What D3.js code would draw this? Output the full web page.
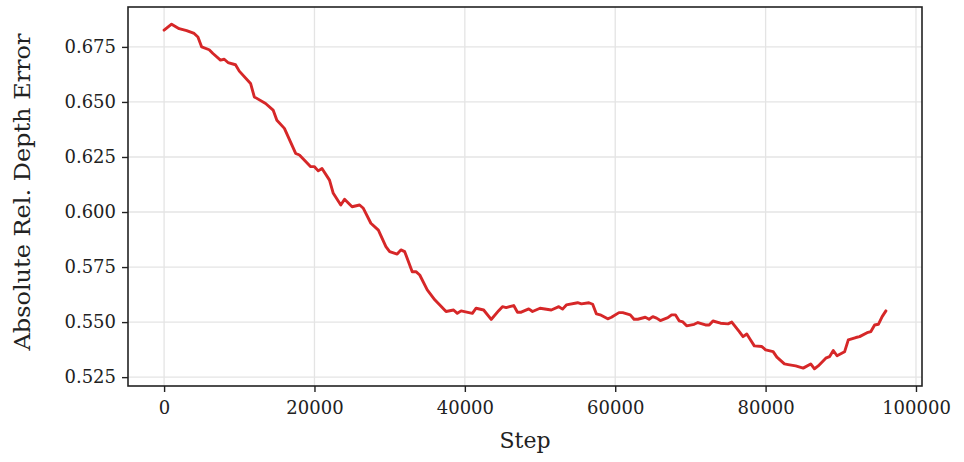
<!DOCTYPE html>
<html>
<head>
<meta charset="utf-8">
<script src="https://cdn.jsdelivr.net/npm/d3@7"></script>
<style>
  html, body { margin: 0; padding: 0; background: #fff; }
  svg { display: block; }
  text { font-family: "DejaVu Serif", serif; fill: #222; }
</style>
</head>
<body>
<svg id="chart" width="964" height="462"></svg>
<script>
// Training curve: evaluation error against optimisation step
const steps = [
  0, 1000, 2000, 3000, 4000, 4500, 5000, 6000, 6500, 7500, 8000, 8500, 9500, 10000,
  11500, 12000, 13500, 14500, 15000, 16000, 17500, 18000, 19500, 20000, 20500, 21000,
  22000, 22500, 23500, 24000, 25000, 26000, 26500, 27500, 28500, 29500, 30000, 31000,
  31500, 32000, 33000, 33500, 34000, 35000, 36000, 37500, 38500, 39000, 39500, 41000,
  41500, 42500, 43500, 44500, 45000, 45500, 46500, 47000, 47500, 48500, 49000, 50000,
  51500, 52500, 53000, 53500, 55000, 55500, 56500, 57000, 57500, 58000, 59000, 59500,
  60500, 61000, 62000, 62500, 63000, 64000, 64500, 65000, 65500, 66000, 67000, 67500,
  68000, 68500, 69000, 69500, 70500, 71000, 72000, 72500, 73000, 74000, 75000, 75500,
  76500, 77000, 77500, 78000, 78500, 79500, 80000, 81000, 81500, 82500, 83000, 84000,
  85000, 86000, 86500, 87000, 88000, 88500, 89000, 89500, 90500, 91000, 92000, 92500,
  93500, 94000, 94500, 95000, 95500, 96000
];
const absRelError = [
  0.6826, 0.6853, 0.6833, 0.6824, 0.6811, 0.6795, 0.6750, 0.6737, 0.6720, 0.6690, 0.6694, 0.6679, 0.6669, 0.6640,
  0.6584, 0.6523, 0.6493, 0.6463, 0.6417, 0.6380, 0.6266, 0.6259, 0.6206, 0.6206, 0.6187, 0.6198,
  0.6145, 0.6085, 0.6032, 0.6058, 0.6024, 0.6032, 0.6017, 0.5949, 0.5918, 0.5843, 0.5820, 0.5809,
  0.5828, 0.5820, 0.5729, 0.5729, 0.5714, 0.5646, 0.5601, 0.5548, 0.5555, 0.5540, 0.5551, 0.5540,
  0.5563, 0.5555, 0.5512, 0.5552, 0.5570, 0.5566, 0.5575, 0.5545, 0.5545, 0.5560, 0.5548, 0.5563,
  0.5555, 0.5570, 0.5559, 0.5578, 0.5588, 0.5583, 0.5588, 0.5581, 0.5537, 0.5533, 0.5515, 0.5522,
  0.5543, 0.5543, 0.5533, 0.5513, 0.5513, 0.5522, 0.5513, 0.5525, 0.5518, 0.5507, 0.5520, 0.5533,
  0.5533, 0.5506, 0.5501, 0.5483, 0.5490, 0.5498, 0.5487, 0.5487, 0.5505, 0.5495, 0.5492, 0.5500,
  0.5457, 0.5434, 0.5446, 0.5419, 0.5392, 0.5389, 0.5374, 0.5366, 0.5341, 0.5310, 0.5307, 0.5301,
  0.5291, 0.5310, 0.5288, 0.5301, 0.5336, 0.5343, 0.5371, 0.5347, 0.5365, 0.5419, 0.5430, 0.5434,
  0.5452, 0.5457, 0.5487, 0.5490, 0.5525, 0.5551
];
const xTicks = [0, 20000, 40000, 60000, 80000, 100000];
const yTicks = [0.525, 0.550, 0.575, 0.600, 0.625, 0.650, 0.675];
const xLabel = "Step";
const yLabel = "Absolute Rel. Depth Error";

const svg = d3.select("#chart");
const margin = { left: 128, right: 42, top: 7, bottom: 76 };
const width = 964 - margin.left - margin.right;
const height = 462 - margin.top - margin.bottom;

// 5% padding around the data range on both axes
const xExt = d3.extent(steps), yExt = d3.extent(absRelError);
const xPad = (xExt[1] - xExt[0]) * 0.05, yPad = (yExt[1] - yExt[0]) * 0.05;
const x = d3.scaleLinear().domain([xExt[0] - xPad, xExt[1] + xPad]).range([0, width]);
const y = d3.scaleLinear().domain([yExt[0] - yPad, yExt[1] + yPad]).range([height, 0]);

const g = svg.append("g").attr("transform", `translate(${margin.left},${margin.top})`);

// grid
g.append("g").selectAll("line").data(xTicks).join("line")
  .attr("x1", d => x(d)).attr("x2", d => x(d)).attr("y1", 0).attr("y2", height)
  .attr("stroke", "#e4e4e4").attr("stroke-width", 1.3);
g.append("g").selectAll("line").data(yTicks).join("line")
  .attr("y1", d => y(d)).attr("y2", d => y(d)).attr("x1", 0).attr("x2", width)
  .attr("stroke", "#e4e4e4").attr("stroke-width", 1.3);

// curve
const pts = steps.map((s, i) => [s, absRelError[i]]);
g.append("path").datum(pts)
  .attr("fill", "none").attr("stroke", "#d62728").attr("stroke-width", 2.9)
  .attr("stroke-linejoin", "round").attr("stroke-linecap", "round")
  .attr("d", d3.line().x(d => x(d[0])).y(d => y(d[1])));

// axes
const xAxis = g.append("g").attr("transform", `translate(0,${height})`)
  .call(d3.axisBottom(x).tickValues(xTicks).tickFormat(d3.format("d")).tickSize(6).tickPadding(9));
const yAxis = g.append("g")
  .call(d3.axisLeft(y).tickValues(yTicks).tickFormat(d3.format(".3f")).tickSize(6).tickPadding(6));
[xAxis, yAxis].forEach(a => {
  a.select(".domain").remove();
  a.selectAll(".tick line").attr("stroke", "#222").attr("stroke-width", 1.4);
  a.selectAll(".tick text").attr("font-size", 18).attr("fill", "#222")
    .style("font-family", '"DejaVu Serif", serif');
});

// frame
g.append("rect").attr("x", 0).attr("y", 0).attr("width", width).attr("height", height)
  .attr("fill", "none").attr("stroke", "#222").attr("stroke-width", 1.6);

// axis titles, centred on the plot area
svg.append("text").attr("x", margin.left + width / 2).attr("y", 448)
  .attr("text-anchor", "middle").attr("font-size", 22).text(xLabel);
svg.append("text").attr("transform", `translate(30,192) rotate(-90)`)
  .attr("text-anchor", "middle").attr("font-size", 22).attr("textLength", 317)
  .attr("lengthAdjust", "spacingAndGlyphs").text(yLabel);
</script>
</body>
</html>
